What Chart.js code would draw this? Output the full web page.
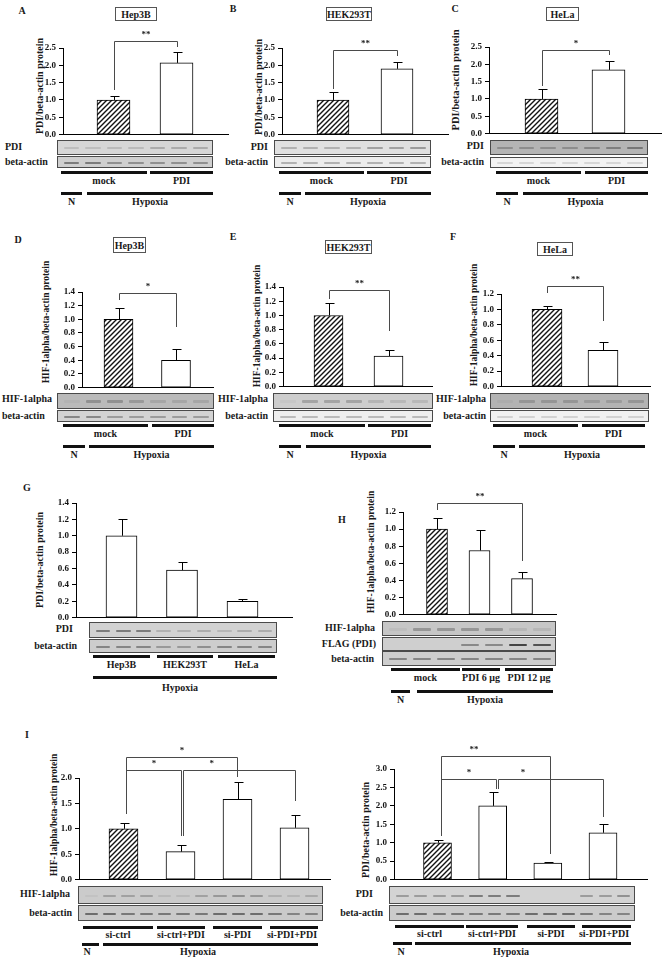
<!DOCTYPE html>
<html><head><meta charset="utf-8">
<script src="https://cdn.jsdelivr.net/npm/chart.js@4.4.0/dist/chart.umd.min.js"></script>
<style>
body{margin:0;background:#fff;}
#fig{position:relative;width:664px;height:959px;overflow:hidden;background:#fff;font-family:"Liberation Serif","Times New Roman",serif;color:#1a1a1a;}
.t{position:absolute;white-space:nowrap;font-weight:bold;font-size:10px;line-height:1;}
.box{position:absolute;border:1px solid #555;box-sizing:border-box;background:#fff;display:flex;align-items:center;justify-content:center;font-weight:bold;font-size:10px;}
.blot{position:absolute;border:1px solid #4a4a4a;box-sizing:border-box;overflow:hidden;}
.band{position:absolute;border-radius:1px;}
.gbar{position:absolute;height:3px;background:#111;}
canvas{position:absolute;}
</style></head>
<body><div id="fig"></div>
<script>
// ---------------- DATA ----------------
const cellLines = ['Hep3B', 'HEK293T', 'HeLa'];
const pdiGroups = ['mock', 'PDI'];
const conditionLabels = ['N', 'Hypoxia'];

// A–C: PDI / beta-actin protein
const pdiHep3B = [1.00, 2.07];   const pdiHep3BErr = [0.10, 0.32];
const pdiHEK = [1.00, 1.90];     const pdiHEKErr = [0.22, 0.19];
const pdiHeLa = [1.00, 1.84];    const pdiHeLaErr = [0.28, 0.25];
// D–F: HIF-1alpha / beta-actin protein
const hifHep3B = [1.00, 0.40];   const hifHep3BErr = [0.16, 0.16];
const hifHEK = [1.00, 0.43];     const hifHEKErr = [0.17, 0.08];
const hifHeLa = [1.00, 0.47];    const hifHeLaErr = [0.04, 0.11];
// G: basal PDI in three cell lines
const basalPdi = [1.00, 0.58, 0.20]; const basalPdiErr = [0.20, 0.10, 0.03];
// H: dose response
const doseGroups = ['mock', 'PDI 6 μg', 'PDI 12 μg'];
const doseHif = [1.00, 0.75, 0.42];  const doseHifErr = [0.13, 0.24, 0.08];
// I: siRNA
const siGroups = ['si-ctrl', 'si-ctrl+PDI', 'si-PDI', 'si-PDI+PDI'];
const siHif = [1.00, 0.55, 1.58, 1.02]; const siHifErr = [0.11, 0.14, 0.34, 0.25];
const siPdi = [1.00, 2.00, 0.45, 1.27]; const siPdiErr = [0.07, 0.38, 0.04, 0.25];

// y-axis ranges (max, step)
const axisPdiAC = [2.5, 0.5];
const axisHifDE = [1.4, 0.2];
const axisHifF = [1.2, 0.2];
const axisG = [1.4, 0.2];
const axisH = [1.2, 0.2];
const axisIHif = [2.0, 0.5];
const axisIPdi = [3.0, 0.5];

// significance brackets (category index from/to, line level, leg ends, label)
const sigA = [{from:0, to:1, level:2.70, legs:[1.29, 2.53], label:'**'}];
const sigB = [{from:0, to:1, level:2.44, legs:[1.32, 2.28], label:'**'}];
const sigC = [{from:0, to:1, level:2.42, legs:[1.38, 2.28], label:'*'}];
const sigD = [{from:0, to:1, level:1.39, legs:[1.29, 0.89], label:'*'}];
const sigE = [{from:0, to:1, level:1.36, legs:[1.23, 0.78], label:'**'}];
const sigF = [{from:0, to:1, level:1.31, legs:[1.21, 0.85], label:'**'}];
const sigH = [{from:0, to:2, level:1.30, legs:[1.22, 0.63], label:'**'}];
const sigIHif = [
  {from:0.04, to:1.99, level:2.42, legs:[1.29, 2.02], label:'*'},
  {from:0.04, to:1.00, level:2.15, legs:[1.29, 0.85], label:'*'},
  {from:1.04, to:3.00, level:2.15, legs:[0.85, 1.54], label:'*', labelAt:1.55}
];
const sigIPdi = [
  {from:0.06, to:2.04, level:3.34, legs:[1.19, 0.69], label:'**', labelAt:0.66},
  {from:0.06, to:1.06, level:2.73, legs:[1.19, 2.47], label:'*'},
  {from:1.10, to:3.00, level:2.73, legs:[2.47, 1.70], label:'*', labelAt:1.55}
];

// ---------------- HELPERS ----------------
const FONT = '"Liberation Serif","Times New Roman",serif';
Chart.defaults.font.family = FONT;
const fig = document.getElementById('fig');

function txt(s, x, y, o = {}) {
  const d = document.createElement('div');
  d.className = 't'; d.textContent = s;
  d.style.left = x + 'px'; d.style.top = y + 'px';
  if (o.size) d.style.fontSize = o.size + 'px';
  if (o.normal) d.style.fontWeight = 'normal';
  const a = o.align || 'c';
  let tr = a === 'c' ? 'translate(-50%,-50%)' : a === 'r' ? 'translate(-100%,-50%)' : 'translate(0,-50%)';
  if (o.rot) tr = 'translate(-50%,-50%) rotate(-90deg)';
  d.style.transform = tr;
  fig.appendChild(d);
}
function titleBox(s, x1, y1, x2, y2) {
  const d = document.createElement('div');
  d.className = 'box'; d.textContent = s;
  d.style.cssText += `left:${x1}px;top:${y1}px;width:${x2 - x1}px;height:${y2 - y1}px;`;
  fig.appendChild(d);
}
function blot(x1, x2, y1, y2, bg, bands, bandColor, bandH) {
  const d = document.createElement('div');
  d.className = 'blot';
  d.style.cssText += `left:${x1}px;top:${y1}px;width:${x2 - x1}px;height:${y2 - y1}px;background:${bg};`;
  const n = bands.length, w = x2 - x1 - 6, lw = w / n, h = y2 - y1 - 2;
  bands.forEach((v, i) => {
    if (v <= 0) return;
    const b = document.createElement('div');
    b.className = 'band';
    b.style.cssText += `left:${3 + i * lw + lw * 0.14}px;width:${lw * 0.72}px;top:${h / 2 - bandH / 2 + 0.5}px;height:${bandH}px;background:${bandColor};opacity:${v};`;
    d.appendChild(b);
  });
  fig.appendChild(d);
}
function gbar(x1, x2, y, label, ty, tx) {
  const d = document.createElement('div');
  d.className = 'gbar';
  d.style.cssText += `left:${x1}px;top:${y}px;width:${x2 - x1}px;`;
  fig.appendChild(d);
  if (label) txt(label, tx !== undefined ? tx : (x1 + x2) / 2, ty);
}
function hatchPattern() {
  const c = document.createElement('canvas'); c.width = 5; c.height = 5;
  const x = c.getContext('2d');
  x.fillStyle = '#fff'; x.fillRect(0, 0, 5, 5);
  x.strokeStyle = '#111'; x.lineWidth = 1.4; x.lineCap = 'square';
  x.beginPath();
  x.moveTo(0, 5); x.lineTo(5, 0);
  x.moveTo(-1, 1); x.lineTo(1, -1);
  x.moveTo(4, 6); x.lineTo(6, 4);
  x.stroke();
  return x.createPattern(c, 'repeat');
}
const HATCH = hatchPattern();

const errorBars = {
  id: 'errorBars',
  afterDatasetsDraw(chart) {
    const ctx = chart.ctx, ys = chart.scales.y;
    chart.data.datasets.forEach((ds, di) => {
      const meta = chart.getDatasetMeta(di);
      meta.data.forEach((bar, i) => {
        const v = ds.data[i].y, e = ds.errors[i];
        const yt = Math.round(ys.getPixelForValue(v + e)) + 0.5;
        const x = Math.round(bar.x) + 0.5;
        ctx.save(); ctx.strokeStyle = '#000'; ctx.lineWidth = 1;
        ctx.beginPath();
        ctx.moveTo(x, bar.y); ctx.lineTo(x, yt);
        ctx.moveTo(x - 4, yt); ctx.lineTo(x + 5, yt);
        ctx.stroke(); ctx.restore();
      });
    });
  }
};
const brackets = {
  id: 'brackets',
  afterDraw(chart) {
    const items = chart.data.datasets[0].sig || [];
    const xs = chart.scales.x, ys = chart.scales.y, ctx = chart.ctx;
    ctx.save();
    ctx.strokeStyle = '#4a4a4a'; ctx.lineWidth = 1; ctx.fillStyle = '#222';
    ctx.font = `bold 9px ${FONT}`; ctx.textAlign = 'center'; ctx.textBaseline = 'middle';
    items.forEach(b => {
      const x1 = Math.round(xs.getPixelForValue(b.from)) + 0.5;
      const x2 = Math.round(xs.getPixelForValue(b.to)) + 0.5;
      const y = Math.round(ys.getPixelForValue(b.level)) + 0.5;
      ctx.beginPath();
      ctx.moveTo(x1, Math.round(ys.getPixelForValue(b.legs[0])));
      ctx.lineTo(x1, y); ctx.lineTo(x2, y);
      ctx.lineTo(x2, Math.round(ys.getPixelForValue(b.legs[1])));
      ctx.stroke();
      const lx = b.labelAt !== undefined ? xs.getPixelForValue(b.labelAt) : (x1 + x2) / 2;
      ctx.fillText(b.label, lx, y - 7);
    });
    ctx.restore();
  }
};

function makeChart(p) {
  const left = p.ax - 40, top = p.ct;
  const W = p.ar - left + 2, H = p.y0 - top + 6;
  const cv = document.createElement('canvas');
  cv.width = W; cv.height = H;
  cv.style.cssText = `left:${left}px;top:${top}px;width:${W}px;height:${H}px;`;
  fig.appendChild(cv);
  const n = p.values.length;
  const s = (p.cN - p.c0) / (n - 1);
  new Chart(cv, {
    type: 'bar',
    data: {
      datasets: [{
        data: p.values.map((v, i) => ({x: i, y: v})),
        errors: p.errors, sig: p.sig || [],
        backgroundColor: p.values.map((v, i) => (p.hatchFirst && i === 0) ? HATCH : '#fff'),
        borderColor: '#000', borderWidth: 1, borderSkipped: false,
        barThickness: p.bw, grouped: false
      }]
    },
    options: {
      responsive: false, animation: false, devicePixelRatio: 1,
      events: [],
      layout: {padding: {top: p.yt - top, bottom: 6, left: 0, right: 2}},
      plugins: {legend: {display: false}, tooltip: {enabled: false}},
      scales: {
        x: {
          type: 'linear', offset: false, bounds: 'data',
          min: -(p.c0 - p.ax) / s, max: (p.ar - p.c0) / s,
          ticks: {display: false}, grid: {display: false, offset: false},
          border: {display: true, color: '#000', width: 1},
          afterFit: sc => { sc.height = 0; }
        },
        y: {
          min: 0, max: p.axis[0],
          ticks: {stepSize: p.axis[1], callback: v => Number(v).toFixed(1),
                  font: {family: FONT, size: 9, weight: 'bold'}, color: '#111', padding: 3},
          grid: {display: true, drawOnChartArea: false, drawTicks: true, tickLength: 4, color: '#000'},
          border: {display: true, color: '#000', width: 1},
          afterFit: sc => { sc.width = 40; }
        }
      }
    },
    plugins: [errorBars, brackets]
  });
}

// ---------------- PANELS ----------------
const panels = [
  {values: pdiHep3B, errors: pdiHep3BErr, axis: axisPdiAC, sig: sigA, hatchFirst: true,
   ax: 63, ar: 228, yt: 48, y0: 137, ct: 24, c0: 113.5, cN: 176.5, bw: 33},
  {values: pdiHEK, errors: pdiHEKErr, axis: axisPdiAC, sig: sigB, hatchFirst: true,
   ax: 282, ar: 448, yt: 48, y0: 137, ct: 32, c0: 333, cN: 397, bw: 32},
  {values: pdiHeLa, errors: pdiHeLaErr, axis: axisPdiAC, sig: sigC, hatchFirst: true,
   ax: 489, ar: 661, yt: 47, y0: 136, ct: 31, c0: 541.5, cN: 608.5, bw: 33},
  {values: hifHep3B, errors: hifHep3BErr, axis: axisHifDE, sig: sigD, hatchFirst: true,
   ax: 82, ar: 213, yt: 292, y0: 390, ct: 274, c0: 118.5, cN: 176, bw: 29},
  {values: hifHEK, errors: hifHEKErr, axis: axisHifDE, sig: sigE, hatchFirst: true,
   ax: 283, ar: 432, yt: 287, y0: 389, ct: 273, c0: 328.5, cN: 388.5, bw: 29},
  {values: hifHeLa, errors: hifHeLaErr, axis: axisHifF, sig: sigF, hatchFirst: true,
   ax: 501, ar: 650, yt: 294, y0: 389, ct: 268, c0: 547, cN: 603, bw: 30},
  {values: basalPdi, errors: basalPdiErr, axis: axisG, sig: [], hatchFirst: false,
   ax: 76, ar: 292, yt: 503, y0: 620, ct: 494, c0: 121.5, cN: 242.5, bw: 31},
  {values: doseHif, errors: doseHifErr, axis: axisH, sig: sigH, hatchFirst: true,
   ax: 403, ar: 556, yt: 512, y0: 617, ct: 482, c0: 437, cN: 522, bw: 21},
  {values: siHif, errors: siHifErr, axis: axisIHif, sig: sigIHif, hatchFirst: true,
   ax: 79, ar: 330, yt: 778, y0: 882, ct: 738, c0: 123.5, cN: 294.5, bw: 29},
  {values: siPdi, errors: siPdiErr, axis: axisIPdi, sig: sigIPdi, hatchFirst: true,
   ax: 394, ar: 647, yt: 769, y0: 882, ct: 734, c0: 437.5, cN: 603, bw: 28}
];

// ---------------- DECORATION (text, blots, group bars) ----------------
[['A',22,11],['B',233,9],['C',455,9],['D',18,240],['E',233,237],['F',453,237],['G',27,488],['H',342,520],['I',27,735]]
  .forEach(([l, x, y]) => txt(l, x, y));
titleBox(cellLines[0], 115, 7, 157, 21);
titleBox(cellLines[1], 326, 7, 372, 21);
titleBox(cellLines[2], 546, 7, 579, 21);
titleBox(cellLines[0], 113, 237, 146, 253);
titleBox(cellLines[1], 325, 240, 372, 254);
titleBox(cellLines[2], 537, 242, 573, 256);
const tP = 'PDI/beta-actin protein', tH = 'HIF-1alpha/beta-actin protein';
txt(tP, 40, 86, {rot: true});
txt(tP, 259, 87, {rot: true});
txt(tP, 456, 80, {rot: true, size: 10.5});
txt(tH, 47, 322, {rot: true, size: 9.5});
txt(tH, 258, 326, {rot: true, size: 9.5});
txt(tH, 475, 325, {rot: true, size: 9.5});
txt(tP, 40, 560, {rot: true});
txt(tH, 372, 552, {rot: true, size: 9.5});
txt(tH, 55, 815, {rot: true, size: 9.5});
txt(tP, 366, 830, {rot: true});

blot(57, 213, 140, 155, '#d6d6d6', [0.3,0.3,0.35,0.35,0.55,0.55,0.55], '#888', 2);
blot(57, 213, 156, 168, '#cfcfcf', [0.8,0.8,0.6,0.6,0.6,0.6,0.6], '#666', 2);
blot(274, 431, 140, 155, '#e0e0e0', [0.45,0.45,0.45,0.45,0.6,0.6,0.65], '#777', 2);
blot(274, 431, 156, 168, '#ececec', [0.5,0.5,0.5,0.5,0.5,0.5,0.5], '#777', 2);
blot(490, 648, 140, 155, '#b4b4b4', [0.5,0.5,0.5,0.5,0.6,0.7,0.8], '#666', 2);
blot(490, 648, 157, 168, '#f3f3f3', [0.3,0.3,0.3,0.3,0.3,0.3,0.3], '#999', 2);
txt('PDI', 5, 147, {align: 'l'}); txt('beta-actin', 5, 162, {align: 'l'});
txt('PDI', 268, 147, {align: 'r'}); txt('beta-actin', 268, 162, {align: 'r'});
txt('PDI', 484, 146, {align: 'r'}); txt('beta-actin', 484, 162, {align: 'r'});
blot(57, 214, 393, 409, '#bababa', [0.1,0.6,0.6,0.5,0.3,0.3,0.3], '#777', 3);
blot(57, 214, 410, 422, '#d3d3d3', [0.7,0.7,0.5,0.5,0.5,0.5,0.5], '#666', 2);
blot(273, 433, 393, 409, '#cdcdcd', [0.1,0.6,0.6,0.6,0.35,0.3,0.3], '#888', 3);
blot(273, 433, 410, 422, '#efefef', [0.5,0.5,0.5,0.5,0.5,0.5,0.5], '#888', 2);
blot(490, 649, 393, 409, '#b3b3b3', [0.1,0.5,0.5,0.5,0.4,0.4,0.5], '#777', 3);
blot(490, 649, 410, 422, '#f1f1f1', [0.35,0.35,0.35,0.35,0.35,0.35,0.35], '#999', 2);
txt('HIF-1alpha', 2, 399, {align: 'l'}); txt('beta-actin', 2, 416, {align: 'l'});
txt('HIF-1alpha', 268, 399, {align: 'r'}); txt('beta-actin', 268, 416, {align: 'r'});
txt('HIF-1alpha', 486, 399, {align: 'r'}); txt('beta-actin', 486, 416, {align: 'r'});
blot(89, 277, 622, 638, '#d2d2d2', [0.8,0.8,0.8,0.3,0.3,0.35,0.25,0.35,0.35], '#666', 2);
blot(89, 277, 639, 653, '#cdcdcd', [0.7,0.7,0.7,0.5,0.5,0.6,0.7,0.7,0.7], '#666', 2);
txt('PDI', 73, 629, {align: 'r'}); txt('beta-actin', 77, 646, {align: 'r'});
blot(382, 556, 621, 636, '#c6c6c6', [0.1,0.6,0.6,0.6,0.6,0.2,0.2], '#777', 3);
blot(382, 556, 637, 651, '#cfcfcf', [0,0,0,0.5,0.5,1,0.9], '#444', 2);
blot(382, 556, 651, 666, '#cdcdcd', [0.7,0.7,0.7,0.7,0.7,0.7,0.7], '#666', 2);
txt('HIF-1alpha', 375, 628, {align: 'r'}); txt('FLAG (PDI)', 376, 644, {align: 'r'}); txt('beta-actin', 374, 659, {align: 'r'});
blot(78, 323, 886, 904, '#cbcbcb', [0.1,0.5,0.5,0.5,0.2,0.2,0.5,0.6,0.7,0.6,0.3,0.25,0.4], '#777', 2);
blot(78, 323, 905, 921, '#cacaca', [0.8,0.8,0.7,0.7,0.7,0.7,0.7,0.8,0.8,0.8,0.7,0.6,0.6], '#555', 2);
blot(389, 635, 886, 904, '#d3d3d3', [0.5,0.5,0.5,0.5,0.8,0.8,0.8,0,0,0,0.5,0.5,0.6], '#666', 2);
blot(389, 635, 905, 921, '#cbcbcb', [0.8,0.8,0.7,0.7,0.7,0.7,0.7,0.8,0.8,0.8,0.7,0.6,0.6], '#555', 2);
txt('HIF-1alpha', 70, 894, {align: 'r'}); txt('beta-actin', 72, 913, {align: 'r'});
txt('PDI', 373, 894, {align: 'r'}); txt('beta-actin', 383, 913, {align: 'r'});

function pairRows(m1, m2, n1, h1, y1, ty1, y2, ty2) {
  gbar(m1[0], m1[1], y1, pdiGroups[0], ty1);
  gbar(m2[0], m2[1], y1, pdiGroups[1], ty1);
  gbar(n1[0], n1[1], y2, conditionLabels[0], ty2);
  gbar(h1[0], h1[1], y2, conditionLabels[1], ty2);
}
pairRows([61,147],[150,213],[61,82],[87,213], 171, 181, 192, 202);
pairRows([279,364],[367,431],[279,301],[305,431], 171, 181, 192, 202);
pairRows([496,581],[585,648],[496,518],[523,648], 171, 181, 192, 202);
pairRows([63,148],[152,214],[63,85],[89,214], 424, 434, 445, 455);
pairRows([279,365],[368,431],[279,301],[306,431], 424, 434, 445, 455);
pairRows([493,578],[582,645],[493,515],[519,645], 424, 434, 445, 455);
gbar(93, 150, 655, cellLines[0], 665);
gbar(157, 213, 655, cellLines[1], 665);
gbar(218, 275, 655, cellLines[2], 665);
gbar(93, 277, 676, conditionLabels[1], 688, 180);
gbar(391, 460, 668, doseGroups[0], 678);
gbar(462, 500, 668, doseGroups[1], 678);
gbar(505, 553, 668, doseGroups[2], 678);
gbar(391, 410, 690, conditionLabels[0], 700);
gbar(417, 553, 690, conditionLabels[1], 700);
gbar(83, 153, 926, siGroups[0], 935);
gbar(157, 205, 926, siGroups[1], 935);
gbar(213, 262, 926, siGroups[2], 935);
gbar(270, 318, 926, siGroups[3], 935, 292);
gbar(82, 99, 943, conditionLabels[0], 952, 87);
gbar(103, 318, 943, conditionLabels[1], 952, 198);
gbar(395, 464, 925, siGroups[0], 934);
gbar(466, 518, 925, siGroups[1], 934);
gbar(527, 575, 925, siGroups[2], 934);
gbar(582, 631, 925, siGroups[3], 934, 604);
gbar(393, 412, 942, conditionLabels[0], 952, 401);
gbar(415, 631, 942, conditionLabels[1], 952, 511);

panels.forEach(makeChart);
</script>
</body></html>
